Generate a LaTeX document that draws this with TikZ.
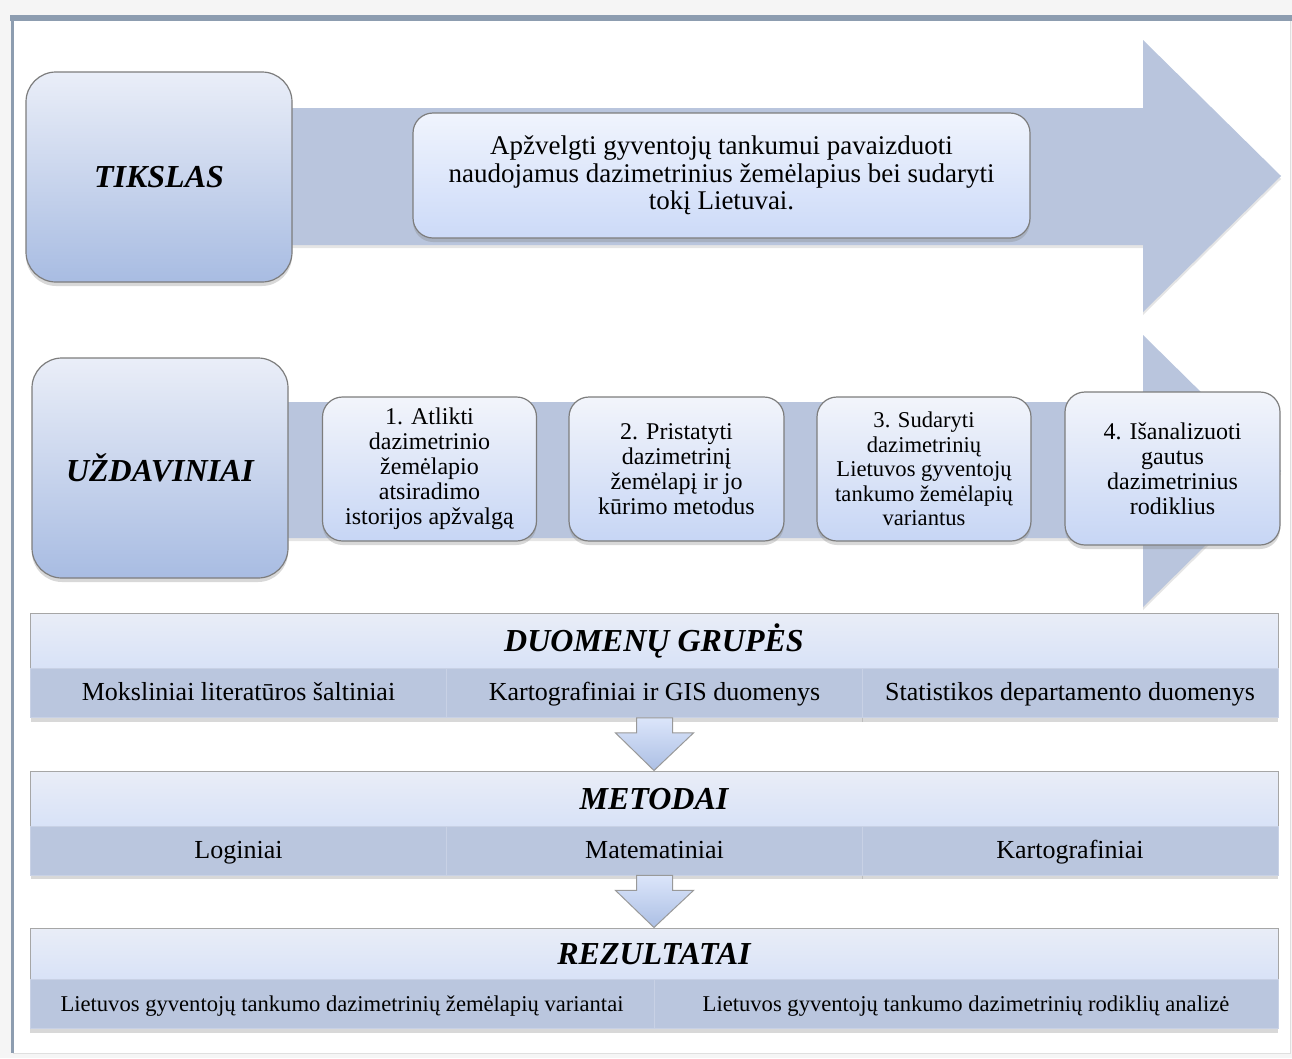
\documentclass[tikz,border=0pt]{standalone}
\usepackage{fontspec}
\setmainfont{Liberation Serif}
\usetikzlibrary{shadows,calc}

\definecolor{barblue}{RGB}{185,197,221}
\definecolor{frameslate}{RGB}{141,157,176}
\definecolor{boxtop}{RGB}{234,238,248}
\definecolor{boxbot}{RGB}{168,188,226}
\definecolor{cardtop}{RGB}{240,244,253}
\definecolor{cardbot}{RGB}{204,218,248}
\definecolor{bandtop}{RGB}{233,237,247}
\definecolor{bandbot}{RGB}{216,226,247}
\definecolor{rowfill}{RGB}{186,198,222}
\definecolor{edgegray}{RGB}{125,125,125}

\tikzset{
  softshadow/.style={drop shadow={shadow xshift=0pt, shadow yshift=-4pt, opacity=0.3}},
  bigarrow/.style={fill=barblue, drop shadow={shadow xshift=0pt, shadow yshift=-3pt, opacity=0.2}},
  headbox/.style={draw=edgegray, line width=1.2pt, rounded corners=30pt, top color=boxtop, bottom color=boxbot,
    softshadow, font=\fontsize{32}{36}\selectfont\bfseries\itshape},
  cardbox/.style={draw=edgegray, line width=1.2pt, rounded corners=20pt, top color=cardtop, bottom color=cardbot,
    softshadow, align=center},
  taskbox/.style={cardbox, top color=boxtop!60!white, bottom color=cardbot!85!boxbot},
  band/.style={draw=gray!70, line width=1pt, top color=bandtop, bottom color=bandbot, minimum width=1248pt,
    text height=25pt, text depth=4pt, font=\fontsize{32}{36}\selectfont\bfseries\itshape},
  cell/.style={fill=rowfill, draw=rowfill!80!white, line width=0.8pt, minimum height=49pt,
    text height=18pt, text depth=2.4pt,
    drop shadow={shadow xshift=0pt, shadow yshift=-4pt, opacity=0.3}},
  downarr/.style={draw=gray!80, line width=1pt, top color=cardbot!70!white, bottom color=boxbot!90!cardbot}
}

\begin{document}
\begin{tikzpicture}[x=1pt, y=-1pt]
  \useasboundingbox (0,0) rectangle (1292,1058);
  % frame of the page
  \fill[gray!8] (0,0) rectangle (1292,1058);
  \fill[white] (13,19) rectangle (1290,1053);
  \draw[gray!25] (1290,21) -- (1290,1053) -- (13,1053);
  \draw[frameslate, line width=6pt] (10,18) -- (1292,18);
  \draw[frameslate, line width=3pt] (12.5,15) -- (12.5,1053);

  % big arrows behind the two rows
  \fill[bigarrow] (200,108) -- (1143,108) -- (1143,40) -- (1281,176) -- (1143,312) -- (1143,245) -- (200,245) -- cycle;
  \fill[bigarrow] (200,402) -- (1143,402) -- (1143,335) -- (1281,471) -- (1143,607) -- (1143,538) -- (200,538) -- cycle;

  % TIKSLAS
  \node[headbox, minimum width=266pt, minimum height=210pt] (tikslas) at (159,177) {TIKSLAS};
  \node[cardbox, minimum width=617pt, minimum height=125pt, font=\fontsize{27}{27.5}\selectfont] (goal) at (721.5,175.5)
    {Apžvelgti gyventojų tankumui pavaizduoti\\naudojamus dazimetrinius žemėlapius bei sudaryti\\tokį Lietuvai.};

  % UZDAVINIAI
  \node[headbox, minimum width=256pt, minimum height=220pt] (uzd) at (160,468) {UŽDAVINIAI};
  \node[taskbox, minimum width=214pt, minimum height=144pt, font=\fontsize{24}{25}\selectfont] (task1) at (429.5,469)
    {1. Atlikti\\dazimetrinio\\žemėlapio\\atsiradimo\\istorijos apžvalgą};
  \node[taskbox, minimum width=215pt, minimum height=144pt, font=\fontsize{24}{25}\selectfont] (task2) at (676.5,469)
    {2. Pristatyti\\dazimetrinį\\žemėlapį ir jo\\kūrimo metodus};
  \node[taskbox, minimum width=214pt, minimum height=144pt, font=\fontsize{22.6}{24.4}\selectfont] (task3) at (924,469)
    {3. Sudaryti\\dazimetrinių\\Lietuvos gyventojų\\tankumo žemėlapių\\variantus};
  \node[taskbox, minimum width=215pt, minimum height=153pt, font=\fontsize{24}{25}\selectfont] (task4) at (1172.5,468.5)
    {4. Išanalizuoti\\gautus\\dazimetrinius\\rodiklius};

  % DUOMENU GRUPES
  \node[band, minimum height=55pt] (dband) at (654,640.5) {DUOMENŲ GRUPĖS};
  \foreach \cx/\txt [count=\i] in {238.5/Moksliniai literatūros šaltiniai, 654.5/Kartografiniai ir GIS duomenys,
      1070/Statistikos departamento duomenys}
    \node[cell, minimum width=416pt, font=\fontsize{26}{28}\selectfont] (dcell\i) at (\cx,693) {\txt};

  % METODAI
  \node[band, minimum height=55pt] (mband) at (654,798.5) {METODAI};
  \foreach \cx/\txt [count=\i] in {238.5/Loginiai, 654.5/Matematiniai, 1070/Kartografiniai}
    \node[cell, minimum width=416pt, font=\fontsize{26}{28}\selectfont] (mcell\i) at (\cx,850.5) {\txt};

  % REZULTATAI
  \node[band, minimum height=52pt] (rband) at (654,954) {REZULTATAI};
  \node[cell, minimum width=624pt, font=\fontsize{22.6}{24}\selectfont, text height=16pt, text depth=2pt] (rcell1) at (342,1004)
    {Lietuvos gyventojų tankumo dazimetrinių žemėlapių variantai};
  \node[cell, minimum width=624pt, font=\fontsize{22.6}{24}\selectfont, text height=16pt, text depth=2pt] (rcell2) at (966,1004)
    {Lietuvos gyventojų tankumo dazimetrinių rodiklių analizė};

  % block arrows between the panels
  \draw[downarr] ($(dcell2.south)+(-18,0)$) -- ++(0,15) -- ++(-21,0) -- (mband.north)
    -- ($(dcell2.south)+(39,15)$) -- ++(-21,0) -- ++(0,-15) -- cycle;
  \draw[downarr] ($(mcell2.south)+(-18,0)$) -- ++(0,15) -- ++(-21,0) -- (rband.north)
    -- ($(mcell2.south)+(39,15)$) -- ++(-21,0) -- ++(0,-15) -- cycle;
\end{tikzpicture}
\end{document}
